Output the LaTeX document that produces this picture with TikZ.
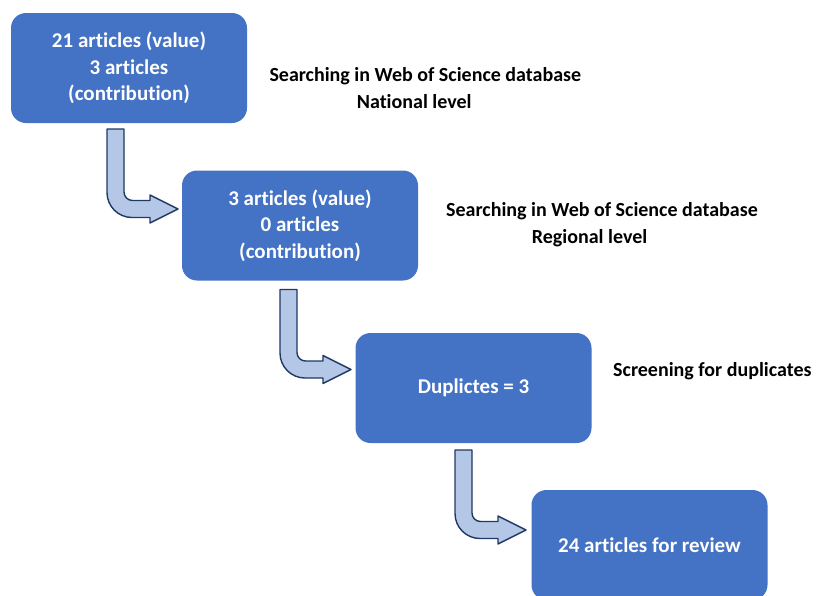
\documentclass[tikz,border=0pt]{standalone}
\usepackage{fontspec}
\setmainfont{Carlito}[Ligatures={NoCommon}]
\definecolor{boxblue}{HTML}{4472C4}
\definecolor{arrfill}{HTML}{B4C7E7}
\definecolor{arrline}{HTML}{203864}
\begin{document}
\begin{tikzpicture}[x=1pt,y=-1pt,
  stepbox/.style={fill=boxblue, rounded corners=15pt, minimum width=236pt, minimum height=110pt, inner sep=0pt, text=white, font=\bfseries\fontsize{21}{26.5}\selectfont, align=center},
  lbl/.style={inner sep=0pt, anchor=base west, font=\bfseries\fontsize{20}{26.5}\selectfont},
  bent/.style={fill=arrfill, draw=arrline, line width=1.4pt, line join=round},
  bentarr/.pic={\draw[bent] (0,0) -- (17,0) -- (17,63) .. controls (17,67.7) and (20.8,71.5) .. (25.5,71.5) -- (43,71.5) -- (43,66) -- (71,80) -- (43,94) -- (43,88.5) -- (25,88.5) .. controls (11.2,88.5) and (0,77.3) .. (0,63.5) -- cycle;}]
\useasboundingbox (0,0) rectangle (817,595);
\node[stepbox] (b1) at (129,68) {21 articles (value)\\3 articles\\(contribution)};
\node[stepbox] (b2) at (300,225.5) {3 articles (value)\\0 articles\\(contribution)};
\node[stepbox] (b3) at (473.5,388) {Duplictes = 3};
\node[stepbox] (b4) at (649.5,545) {24 articles for review};
\pic at (107,129) {bentarr};
\pic at (280,289.5) {bentarr};
\pic at (455,450) {bentarr};
\node[lbl] (t1a) at (269.3,81.7) {Searching in Web of Science database};
\node[lbl] (t1b) at (356.7,108.3) {National level};
\node[lbl] (t2a) at (446,216.7) {Searching in Web of Science database};
\node[lbl] (t2b) at (531.7,243.3) {Regional level};
\node[lbl] (t3) at (613,376.7) {Screening for duplicates};
\end{tikzpicture}
\end{document}
